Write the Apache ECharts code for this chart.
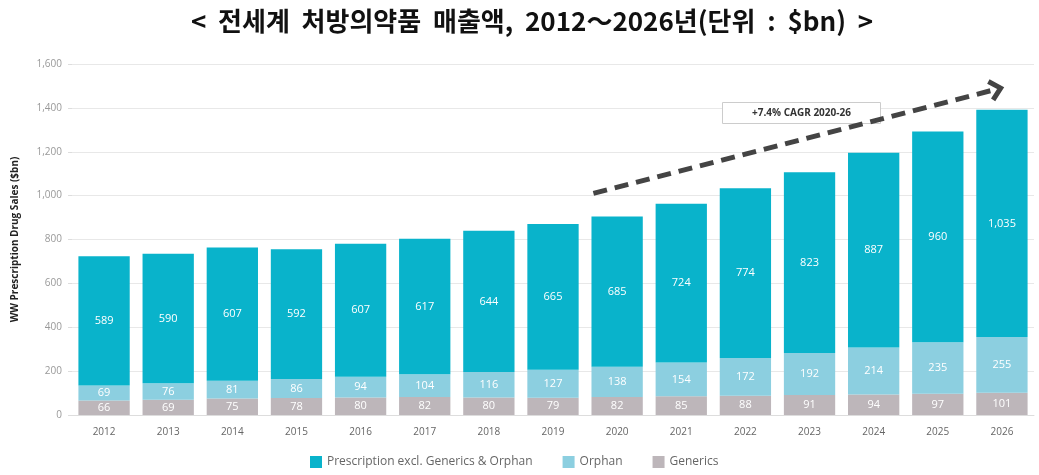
<!DOCTYPE html>
<html><head><meta charset="utf-8">
<script src="https://cdn.jsdelivr.net/npm/echarts@6/dist/echarts.min.js"></script>
<style>html,body{margin:0;padding:0;background:#fff}#c{width:1039px;height:475px}</style>
</head><body><div id="c"></div>
<script>
const years = ['2012','2013','2014','2015','2016','2017','2018','2019','2020','2021','2022','2023','2024','2025','2026'];
const generics = [66,69,75,78,80,82,80,79,82,85,88,91,94,97,101];
const orphan = [69,76,81,86,94,104,116,127,138,154,172,192,214,235,255];
const prescription = [589,590,607,592,607,617,644,665,685,724,774,823,887,960,1035];
const yTicks = [0,200,400,600,800,1000,1200,1400,1600];
const titleText = '<  전세계  처방의약품  매출액,  2012～2026년(단위  :  $bn)  >';
const cagrText = '+7.4% CAGR 2020-26';
const arrowFrom = [7.63, 1010];
const arrowTo = [13.98, 1490];

const chart = echarts.init(document.getElementById('c'));
const fmt = p => Number(p.value).toLocaleString('en-US');
const lbl = {show:true, position:'inside', color:'#fff', fontFamily:'"Open Sans", sans-serif', fontSize:11, formatter:fmt};
const option = {
  animation:false,
  title:{text:titleText, left:527, textAlign:'center', top:3,
    textStyle:{fontFamily:'"Noto Sans CJK KR", sans-serif', fontWeight:'bold', fontSize:26, color:'#111'}},
  legend:{bottom:2, left:305, itemWidth:12, itemHeight:12, itemGap:30,
    icon:'rect', textStyle:{color:'#666', fontSize:12, fontFamily:'"Open Sans", sans-serif'},
    data:['Prescription excl. Generics & Orphan','Orphan','Generics']},
  grid:{left:72, right:5, top:64, bottom:60},
  xAxis:{type:'category', data:years,
    axisLine:{lineStyle:{color:'#ddd'}}, axisTick:{show:false},
    axisLabel:{color:'#666', fontSize:10, margin:12, fontFamily:'"Open Sans", sans-serif'}},
  yAxis:{type:'value', min:0, max:1600, interval:200,
    name:'WW Prescription Drug Sales ($bn)', nameLocation:'middle', nameGap:52, nameRotate:90,
    nameTextStyle:{color:'#222', fontSize:10, fontWeight:'bold', fontFamily:'"Liberation Sans Narrow", "Open Sans", sans-serif'},
    axisLine:{show:false}, axisTick:{show:true, length:4, lineStyle:{color:'#ddd'}},
    splitLine:{lineStyle:{color:'#e8e8e8'}},
    axisLabel:{color:'#999', fontSize:10, margin:10, fontFamily:'"Open Sans", sans-serif',
      formatter:v=>v.toLocaleString('en-US')}},
  series:[
    {name:'Generics', type:'bar', stack:'s', data:generics, barWidth:'80%', itemStyle:{color:'#bdb6ba'}, label:lbl},
    {name:'Orphan', type:'bar', stack:'s', data:orphan, itemStyle:{color:'#8ccfe0'}, label:lbl},
    {name:'Prescription excl. Generics & Orphan', type:'bar', stack:'s', data:prescription, itemStyle:{color:'#09b3cb'}, label:lbl}
  ]
};
chart.setOption(option);
function toPx(pt){
  const i0 = Math.floor(pt[0]), i1 = i0 + 1, f = pt[0] - i0;
  const a = chart.convertToPixel({gridIndex:0}, [i0, pt[1]]);
  const b = chart.convertToPixel({gridIndex:0}, [i1, pt[1]]);
  return [a[0] + (b[0]-a[0])*f, a[1]];
}
const p1 = toPx(arrowFrom);
const p2 = toPx(arrowTo);
const ang = Math.atan2(p2[1]-p1[1], p2[0]-p1[0]);
const hl = 14, hw = 0.75;
const h1 = [p2[0]-hl*Math.cos(ang-hw), p2[1]-hl*Math.sin(ang-hw)];
const h2 = [p2[0]-hl*Math.cos(ang+hw), p2[1]-hl*Math.sin(ang+hw)];
chart.setOption({graphic:[
  {type:'line', shape:{x1:p1[0],y1:p1[1],x2:p2[0]-4*Math.cos(ang),y2:p2[1]-4*Math.sin(ang)},
   style:{stroke:'#444', lineWidth:5, lineDash:[14,8]}, z:100},
  {type:'polyline', shape:{points:[h1,p2,h2]}, style:{stroke:'#444', lineWidth:5, fill:null}, z:100},
  {type:'group', left:722, top:102, z:101, children:[
    {type:'rect', shape:{x:0,y:0,width:158,height:21}, style:{fill:'#fff', stroke:'#ccc', lineWidth:1}},
    {type:'text', x:79, y:10.5, style:{text:cagrText, fill:'#333', font:'bold 10px "Open Sans", sans-serif', align:'center', verticalAlign:'middle'}}
  ]}
]});
</script></body></html>
